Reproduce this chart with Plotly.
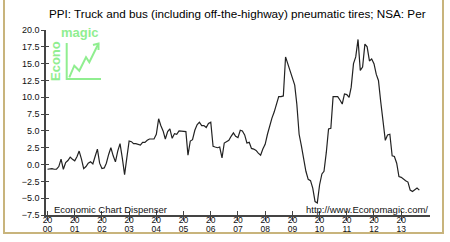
import pandas as pd
import plotly.graph_objects as go

# ---- data (monthly, % change from year ago) ----
start_month = "2000-01-01"
pct_2000 = [-0.7, -0.6, -0.6, -0.7, -0.7, -0.3, 0.8, -0.7, 0.3, 0.6, 1.1, 0.8]
pct_2001 = [0.55, 1.2, 2.0, 0.8, -0.6, -0.3, 0.2, 0.4, 0.1, 1.2, 2.3, 0.2]
pct_2002 = [-0.6, -0.5, 0.2, 1.5, 2.5, 1.3, 0.4, 2.0, 3.1, 1.0, -1.5, 1.0]
pct_2003 = [3.5, 3.4, 3.1, 3.1, 3.0, 2.9, 3.3, 3.3, 3.6, 3.8, 3.8, 3.8]
pct_2004 = [4.5, 6.8, 5.8, 5.0, 3.8, 4.9, 5.3, 3.9, 4.6, 4.5, 5.0, 5.0]
pct_2005 = [5.0, 4.9, 1.4, 3.5, 3.7, 5.1, 5.9, 6.3, 5.8, 5.8, 5.5, 6.1]
pct_2006 = [6.3, 2.7, 2.6, 2.5, 2.6, 1.0, 3.2, 3.4, 3.6, 4.2, 4.7, 4.2]
pct_2007 = [4.0, 5.1, 5.0, 4.4, 3.2, 3.3, 2.4, 2.3, 2.1, 1.7, 1.4, 2.3]
pct_2008 = [3.0, 4.5, 5.8, 6.9, 7.8, 9.0, 10.1, 10.1, 10.2, 16.0, 15.0, 13.8]
pct_2009 = [12.7, 11.8, 9.0, 4.5, 2.8, 1.0, -1.0, -2.2, -2.4, -3.5, -5.5, -5.7]
pct_2010 = [-3.0, -1.4, -1.0, 1.8, 5.3, 5.4, 10.1, 10.1, 10.1, 9.6, 9.0, 10.5]
pct_2011 = [10.4, 10.0, 11.5, 15.0, 16.0, 18.6, 14.0, 14.5, 17.9, 17.5, 15.4, 15.7]
pct_2012 = [15.0, 13.4, 12.5, 9.3, 6.4, 3.6, 4.4, 4.5, 1.3, 1.2, 0.2, -1.8]
pct_2013 = [-1.9, -2.2, -2.4, -2.6, -3.8, -4.0, -3.8, -3.5, -3.8]

tick_years = list(range(2000, 2014))
tick_century = ["20" for y in tick_years]          # first line of each year label
tick_suffix = [str(y)[2:] for y in tick_years]     # second line of each year label
y_ticks = [20.0, 17.5, 15.0, 12.5, 10.0, 7.5, 5.0, 2.5, 0.0, -2.5, -5.0, -7.5]

title_text = "PPI: Truck and bus (including off-the-highway) pneumatic tires; NSA: Per"

values = (pct_2000 + pct_2001 + pct_2002 + pct_2003 + pct_2004 + pct_2005 + pct_2006
          + pct_2007 + pct_2008 + pct_2009 + pct_2010 + pct_2011 + pct_2012 + pct_2013)
dates = pd.date_range(start_month, periods=len(values), freq="MS")
tick_dates = [pd.Timestamp(f"{y}-01-01") for y in tick_years]

# ---- layout geometry ----
W, H = 450, 242
ML, MR, MT, MB = 46, 20, 30, 27
PW, PH = W - ML - MR, H - MT - MB


def px(x):
    return (x - ML) / PW


def py(y):
    return (H - MB - y) / PH


x_range = ["1999-12-12", "2014-01-22"]
y_range = [-7.5, 20.0]
font_family = "Liberation Sans, Arial, sans-serif"
axis_col = "#444444"
green = "#90EE90"
tick_font = dict(size=8.5, family=font_family, color="#111111")

fig = go.Figure()
fig.add_trace(go.Scatter(x=dates, y=values, mode="lines",
                         line=dict(color="#222222", width=1.2),
                         showlegend=False, hoverinfo="skip"))
# empty traces to host the overlay axes (inner tick halves, second label line)
fig.add_trace(go.Scatter(x=[], y=[], xaxis="x2", yaxis="y2", showlegend=False))
fig.add_trace(go.Scatter(x=[], y=[], xaxis="x3", yaxis="y", showlegend=False))

common_x = dict(range=x_range, type="date", tickvals=tick_dates, showgrid=False,
                zeroline=False, ticklen=4, tickwidth=1, tickcolor=axis_col,
                automargin=False)
common_y = dict(range=y_range, tickvals=y_ticks, showgrid=False, zeroline=False,
                ticklen=3, tickwidth=1, tickcolor=axis_col, automargin=False)

fig.update_layout(
    width=W, height=H,
    margin=dict(l=ML, r=MR, t=MT, b=MB, pad=0, autoexpand=False),
    paper_bgcolor="white", plot_bgcolor="white",
    font=dict(family=font_family, color="#111111"),
    xaxis=dict(**common_x, ticks="outside", ticktext=tick_century,
               showline=True, linecolor=axis_col, linewidth=1.5,
               tickfont=tick_font, tickangle=0, ticklabelstandoff=-8),
    xaxis2=dict(**common_x, ticks="inside", overlaying="x", anchor="y",
                showticklabels=False, showline=False),
    xaxis3=dict(range=x_range, type="date", tickvals=tick_dates, ticktext=tick_suffix,
                showgrid=False, zeroline=False, ticks="", overlaying="x", anchor="y",
                showline=False, automargin=False, tickfont=tick_font, tickangle=0,
                ticklabelstandoff=7),
    yaxis=dict(**common_y, ticks="outside", tickformat=".1f",
               showline=True, linecolor=axis_col, linewidth=1.5,
               tickfont=dict(size=9, family=font_family, color="#111111")),
    yaxis2=dict(**common_y, ticks="inside", overlaying="y", anchor="x",
                showticklabels=False, showline=False),
    showlegend=False,
)

annotations = [
    dict(text=title_text, x=px(47), y=py(13), xref="paper", yref="paper",
         xanchor="left", yanchor="middle", showarrow=False,
         font=dict(size=11.7, family=font_family, color="#000000")),
    dict(text="Economic Chart Dispenser", x=px(52), y=py(209.5), xref="paper", yref="paper",
         xanchor="left", yanchor="middle", showarrow=False,
         font=dict(size=9.5, family=font_family, color="#111111")),
    dict(text="http://www.Economagic.com/", x=px(430), y=py(209.5), xref="paper", yref="paper",
         xanchor="right", yanchor="middle", showarrow=False,
         font=dict(size=9.5, family=font_family, color="#111111")),
    dict(text="<b>magic</b>", x=px(79.5), y=py(33), xref="paper", yref="paper",
         xanchor="center", yanchor="middle", showarrow=False,
         font=dict(size=13, family=font_family, color=green)),
    dict(text="<b>Econo</b>", x=px(56), y=py(61), xref="paper", yref="paper",
         xanchor="center", yanchor="middle", showarrow=False, textangle=-90,
         font=dict(size=13, family=font_family, color=green)),
]
fig.update_layout(annotations=annotations)


def path(points):
    return "M " + " L ".join(f"{px(a):.4f},{py(b):.4f}" for a, b in points)


shapes = [
    # outer tan frame
    dict(type="rect", xref="paper", yref="paper", x0=px(4), x1=px(443), y0=py(233), y1=py(-2),
         line=dict(color="#c8b47c", width=2), fillcolor="rgba(0,0,0,0)", layer="below"),
    # logo axes
    dict(type="path", xref="paper", yref="paper",
         path=path([(66.7, 43), (66.7, 79), (101, 79)]),
         line=dict(color=green, width=2)),
    # logo zigzag arrow
    dict(type="path", xref="paper", yref="paper",
         path=path([(69.3, 77.3), (74.3, 65.7), (79.3, 70.7), (86, 57.3), (89.3, 62.3), (98.5, 43.5)]),
         line=dict(color=green, width=2)),
    dict(type="path", xref="paper", yref="paper",
         path=path([(93, 45), (98.5, 43.5), (98.5, 50)]),
         line=dict(color=green, width=2)),
]
fig.update_layout(shapes=shapes)

fig.write_html("out.html")
